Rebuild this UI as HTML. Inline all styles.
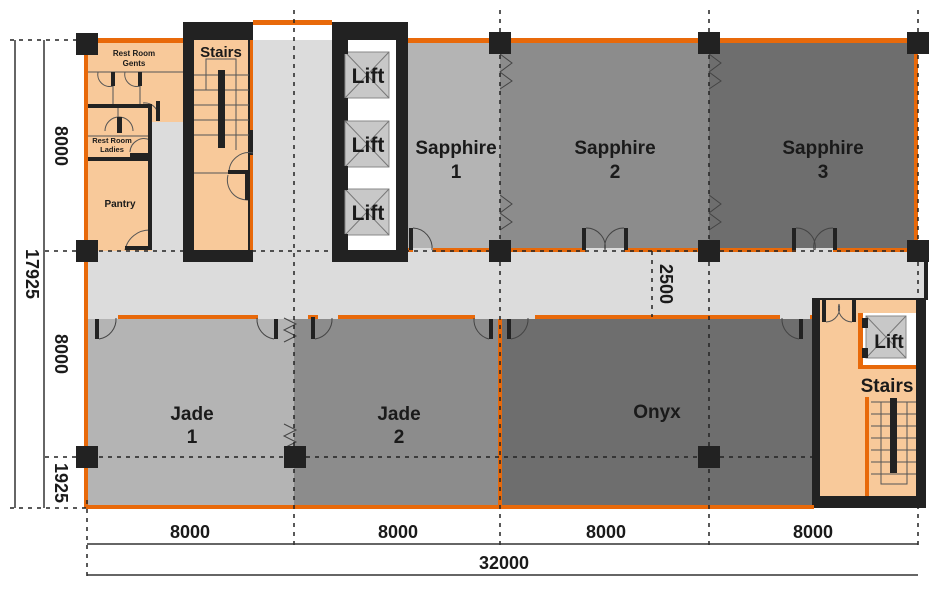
<!DOCTYPE html>
<html><head><meta charset="utf-8"><style>
html,body{margin:0;padding:0;background:#fff;width:944px;height:600px;overflow:hidden}
svg{display:block}
text{font-family:"Liberation Sans",Arial,sans-serif;font-weight:bold;fill:#1a1a1a}
</style></head><body>
<svg width="944" height="600" viewBox="0 0 944 600" xmlns="http://www.w3.org/2000/svg">
<defs>
<g id="col"><rect x="-11" y="-11" width="22" height="22" fill="#222"/></g>
<g id="liftbox"><rect x="0" y="0" width="44" height="46" fill="#c8c8c8" stroke="#888"/><line x1="0" y1="0" x2="44" y2="46" stroke="#777"/><line x1="44" y1="0" x2="0" y2="46" stroke="#777"/></g>
</defs>
<rect x="86" y="40" width="830" height="468" fill="#dcdcdc"/>
<rect x="407" y="40" width="93" height="211" fill="#b4b4b4"/>
<rect x="500" y="40" width="209" height="211" fill="#8c8c8c"/>
<rect x="709" y="40" width="207" height="211" fill="#6e6e6e"/>
<rect x="86" y="318" width="208" height="190" fill="#b4b4b4"/>
<rect x="294" y="318" width="206" height="190" fill="#8c8c8c"/>
<rect x="500" y="318" width="312" height="190" fill="#6e6e6e"/>
<rect x="86" y="251" width="840" height="67" fill="#dcdcdc"/>
<rect x="86" y="40" width="97" height="211" fill="#f8c99a"/>
<rect x="152" y="122" width="31" height="129" fill="#dcdcdc"/>
<g stroke="#555" stroke-width="1" fill="none">
<line x1="88" y1="72" x2="183" y2="72"/><line x1="113" y1="72" x2="113" y2="104"/><line x1="140" y1="72" x2="140" y2="104"/>
<line x1="118" y1="108" x2="118" y2="118"/><line x1="88" y1="136" x2="150" y2="136"/>
<path d="M98 72 A12 12 0 0 0 113 86"/><path d="M125 72 A12 12 0 0 0 140 86"/>
<path d="M105 131 A13 13 0 0 1 133 131"/><path d="M130 152 A14 14 0 0 1 150 140"/>
<path d="M158 121 A14 14 0 0 0 143 103"/><path d="M125 250 A25 25 0 0 1 150 230"/>
</g>
<g fill="#222">
<rect x="88" y="104" width="64" height="4"/><rect x="148" y="104" width="4" height="146"/><rect x="88" y="157" width="62" height="4"/>
<rect x="111" y="72" width="4" height="14"/><rect x="138" y="72" width="4" height="14"/><rect x="117" y="117" width="5" height="16"/>
<rect x="130" y="153" width="20" height="4"/><rect x="125" y="246" width="25" height="4"/><rect x="156" y="101" width="4" height="20"/>
</g>
<text x="134" y="56" font-size="8" text-anchor="middle" font-weight="normal">Rest Room</text>
<text x="134" y="66" font-size="8" text-anchor="middle" font-weight="normal">Gents</text>
<text x="112" y="143" font-size="7.5" text-anchor="middle" font-weight="normal">Rest Room</text>
<text x="112" y="152" font-size="7.5" text-anchor="middle" font-weight="normal">Ladies</text>
<text x="120" y="207" font-size="10" text-anchor="middle" font-weight="normal">Pantry</text>
<rect x="183" y="22" width="70" height="240" fill="#222"/>
<rect x="194" y="40" width="54" height="210" fill="#f8c99a"/>
<rect x="250" y="40" width="3" height="90" fill="#e8690a"/>
<rect x="250" y="155" width="3" height="95" fill="#e8690a"/>
<g stroke="#555" fill="none"><path d="M206 90 V59 H236 V150"/>
<line x1="194" y1="75" x2="249" y2="75"/><line x1="194" y1="90" x2="249" y2="90"/><line x1="194" y1="105" x2="249" y2="105"/><line x1="194" y1="120" x2="249" y2="120"/><line x1="194" y1="135" x2="249" y2="135"/>
<line x1="194" y1="173" x2="228" y2="173"/><path d="M229 173 A20 20 0 0 1 253 153"/><path d="M248 200 A20 20 0 0 1 228 175"/></g>
<rect x="218" y="70" width="7" height="78" fill="#222"/>
<rect x="228" y="170" width="22" height="4" fill="#222"/><rect x="245" y="172" width="5" height="28" fill="#222"/>
<text x="221" y="57" font-size="15" text-anchor="middle">Stairs</text>
<rect x="332" y="22" width="76" height="240" fill="#222"/>
<rect x="348" y="40" width="48" height="210" fill="#fff"/>
<use href="#liftbox" x="345" y="52"/><use href="#liftbox" x="345" y="121"/><use href="#liftbox" x="345" y="189"/>
<g fill="#222"><rect x="340" y="40" width="8" height="14"/><rect x="340" y="98" width="8" height="22"/><rect x="340" y="166" width="8" height="24"/><rect x="340" y="234" width="8" height="16"/></g>
<text x="368" y="83" font-size="21" text-anchor="middle">Lift</text>
<text x="368" y="152" font-size="21" text-anchor="middle">Lift</text>
<text x="368" y="220" font-size="21" text-anchor="middle">Lift</text>
<rect x="812" y="298" width="114" height="210" fill="#222"/>
<rect x="820" y="300" width="96" height="196" fill="#f8c99a"/>
<rect x="862" y="313" width="54" height="54" fill="#fff"/>
<rect x="858" y="313" width="5" height="54" fill="#e8690a"/><rect x="858" y="365" width="58" height="4" fill="#e8690a"/>
<rect x="866" y="316" width="40" height="42" fill="#c8c8c8" stroke="#888"/>
<line x1="866" y1="316" x2="906" y2="358" stroke="#777"/><line x1="906" y1="316" x2="866" y2="358" stroke="#777"/>
<rect x="862" y="318" width="6" height="10" fill="#222"/><rect x="862" y="348" width="6" height="10" fill="#222"/>
<text x="889" y="348" font-size="19" text-anchor="middle">Lift</text>
<text x="887" y="392" font-size="19" text-anchor="middle">Stairs</text>
<rect x="865" y="397" width="4" height="99" fill="#e8690a"/>
<g stroke="#555" fill="none"><line x1="871" y1="402" x2="916" y2="402"/><line x1="871" y1="414" x2="916" y2="414"/><line x1="871" y1="426" x2="916" y2="426"/><line x1="871" y1="438" x2="916" y2="438"/><line x1="871" y1="450" x2="916" y2="450"/><line x1="871" y1="462" x2="916" y2="462"/><line x1="871" y1="474" x2="916" y2="474"/><path d="M881 402 V484 H907 V402"/></g>
<rect x="890" y="398" width="7" height="75" fill="#222"/>
<rect x="822" y="298" width="4" height="24" fill="#222"/><rect x="852" y="298" width="4" height="24" fill="#222"/>
<g stroke="#555" fill="none"><path d="M826 322 A14 14 0 0 0 839 304"/><path d="M852 322 A14 14 0 0 1 839 304"/></g>
<g fill="#e8690a">
<rect x="86" y="38" width="97" height="5"/><rect x="253" y="20" width="79" height="5"/><rect x="408" y="38" width="508" height="5"/>
<rect x="84" y="40" width="4" height="468"/><rect x="914" y="40" width="4" height="211"/><rect x="86" y="505" width="728" height="4"/>
<rect x="408" y="248" width="508" height="4"/><rect x="86" y="315" width="726" height="4"/>
<rect x="498" y="318" width="4" height="190"/>
</g>
<rect x="924" y="258" width="4" height="42" fill="#222"/>
<g fill="#222">
<rect x="95" y="317" width="4" height="22"/><rect x="274" y="317" width="4" height="22"/><rect x="311" y="317" width="4" height="22"/><rect x="489" y="317" width="4" height="22"/><rect x="507" y="317" width="4" height="22"/><rect x="799" y="317" width="4" height="22"/>
<rect x="409" y="228" width="4" height="22"/><rect x="582" y="228" width="4" height="22"/><rect x="624" y="228" width="4" height="22"/><rect x="792" y="228" width="4" height="22"/><rect x="833" y="228" width="4" height="22"/>
</g>
<rect x="88" y="315" width="30" height="4" fill="#dcdcdc"/><rect x="258" y="315" width="50" height="4" fill="#dcdcdc"/><rect x="318" y="315" width="20" height="4" fill="#dcdcdc"/><rect x="475" y="315" width="60" height="4" fill="#dcdcdc"/><rect x="780" y="315" width="30" height="4" fill="#dcdcdc"/>
<rect x="413" y="248" width="20" height="4" fill="#dcdcdc"/><rect x="586" y="248" width="38" height="4" fill="#dcdcdc"/><rect x="796" y="248" width="37" height="4" fill="#dcdcdc"/>
<g stroke="#444" fill="none">
<path d="M99 339 A20 20 0 0 0 116 318"/><path d="M274 339 A20 20 0 0 1 257 318"/><path d="M315 339 A20 20 0 0 0 332 318"/><path d="M489 339 A20 20 0 0 1 474 318"/><path d="M511 339 A20 20 0 0 0 528 318"/><path d="M799 339 A20 20 0 0 1 782 318"/>
<path d="M413 228 A20 20 0 0 1 432 250"/><path d="M586 228 A19 19 0 0 1 605 250"/><path d="M624 228 A19 19 0 0 0 605 250"/><path d="M796 228 A19 19 0 0 1 815 250"/><path d="M833 228 A19 19 0 0 0 814 250"/>
</g>
<g stroke="#444" fill="none">
<path d="M500 54 l12 9 -12 9 12 9 -12 8"/><path d="M709 54 l12 9 -12 9 12 9 -12 8"/>
<path d="M500 195 l12 9 -12 9 12 9 -12 8"/><path d="M709 195 l12 9 -12 9 12 9 -12 8"/>
<path d="M284 318 l12 6 -12 6 12 6 -12 6"/><path d="M284 424 l12 6 -12 6 12 6 -12 6"/>
</g>
<g stroke="#222" stroke-width="1.5" stroke-dasharray="4 5" fill="none">
<line x1="294" y1="10" x2="294" y2="545"/><line x1="500" y1="10" x2="500" y2="545"/><line x1="709" y1="10" x2="709" y2="545"/><line x1="918" y1="10" x2="918" y2="545"/>
<line x1="87" y1="500" x2="87" y2="578"/>
<line x1="45" y1="251" x2="920" y2="251"/><line x1="45" y1="457" x2="812" y2="457"/><line x1="10" y1="40" x2="86" y2="40"/><line x1="10" y1="508" x2="86" y2="508"/>
<line x1="652" y1="251" x2="652" y2="317"/>
</g>
<use href="#col" x="87" y="44"/><use href="#col" x="87" y="251"/><use href="#col" x="87" y="457"/><use href="#col" x="295" y="457"/><use href="#col" x="709" y="457"/>
<use href="#col" x="500" y="43"/><use href="#col" x="709" y="43"/><use href="#col" x="918" y="43"/><use href="#col" x="500" y="251"/><use href="#col" x="709" y="251"/><use href="#col" x="918" y="251"/>
<g font-size="19" text-anchor="middle">
<text x="456" y="154">Sapphire</text><text x="456" y="178">1</text>
<text x="615" y="154">Sapphire</text><text x="615" y="178">2</text>
<text x="823" y="154">Sapphire</text><text x="823" y="178">3</text>
<text x="192" y="420">Jade</text><text x="192" y="443">1</text>
<text x="399" y="420" fill="#333">Jade</text><text x="399" y="443" fill="#333">2</text>
<text x="657" y="418">Onyx</text>
</g>
<g stroke="#333" stroke-width="1.5"><line x1="15" y1="40" x2="15" y2="508"/><line x1="44" y1="40" x2="44" y2="508"/><line x1="87" y1="544" x2="918" y2="544"/><line x1="87" y1="575" x2="918" y2="575"/></g>
<g font-size="18" text-anchor="middle">
<text x="190" y="538">8000</text><text x="398" y="538">8000</text><text x="606" y="538">8000</text><text x="813" y="538">8000</text>
<text x="504" y="569">32000</text>
<text transform="translate(26,274) rotate(90)">17925</text>
<text transform="translate(55,146) rotate(90)">8000</text>
<text transform="translate(55,354) rotate(90)">8000</text>
<text transform="translate(55,483) rotate(90)">1925</text>
<text transform="translate(660,284) rotate(90)">2500</text>
</g>
</svg>
</body></html>
